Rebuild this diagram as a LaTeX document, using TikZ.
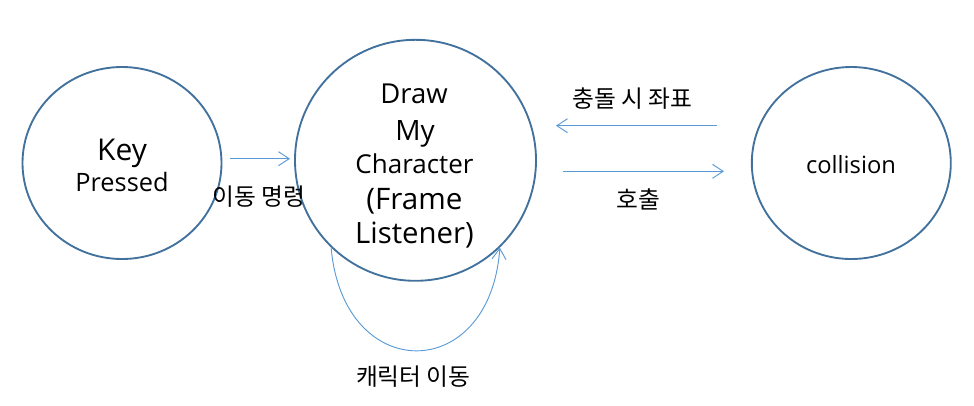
\documentclass[tikz,border=0pt]{standalone}
\usepackage{fontspec}
\setmainfont{Open Sans}
\newfontfamily\kr{Noto Sans CJK KR}
\usetikzlibrary{arrows.meta,shapes.geometric}
\definecolor{ring}{HTML}{41719C}
\definecolor{flow}{HTML}{5B9BD5}
\tikzset{
  state/.style={draw=ring, line width=1.4pt, ellipse, inner sep=0pt},
  flowarrow/.style={draw=flow, line width=0.7pt, -{Straight Barb[length=8pt,width=10.5pt]}},
  lbl/.style={inner sep=0pt, anchor=base, text=black},
  kor/.style={inner sep=0pt, text=black, font=\kr\fontsize{17.8}{20}\selectfont},
}
\newcommand{\fsz}[1]{\fontsize{#1}{#1}\selectfont}
\begin{document}
\begin{tikzpicture}[x=0.75pt,y=-0.75pt]
\useasboundingbox (0,0) rectangle (974,405);
% states
\node[state, minimum width=149.25pt, minimum height=144pt] (key) at (122,163) {};
\node[state, minimum width=180.75pt, minimum height=180.75pt] (mid) at (415.5,160.3) {};
\node[state, minimum width=149.25pt, minimum height=144pt] (col) at (851.3,163) {};
% state texts
\node[lbl, font=\fsz{22.5}] (tkey) at (122,160) {Key};
\node[lbl, font=\fsz{19}] (tpressed) at (122,191) {Pressed};
\node[lbl, font=\fsz{20.6}] (tdraw) at (414,103) {Draw};
\node[lbl, font=\fsz{21}] (tmy) at (415,140) {My};
\node[lbl, font=\fsz{19.5}] (tchar) at (414.5,173) {Character};
\node[lbl, font=\fsz{22.2}] (tframe) at (414.5,209) {(Frame};
\node[lbl, font=\fsz{22}] (tlist) at (414.5,243) {Listener)};
\node[lbl, font=\fsz{17.8}] (tcol) at (851,173.3) {collision};
% connector ends
\coordinate (k1) at (229.7,158.7);
\coordinate (k2) at (290,158.7);
\coordinate (c1) at (716.7,125.7);
\coordinate (c2) at (556,125.7);
\coordinate (h1) at (563,171.3);
\coordinate (h2) at (724,171.3);
% connectors
\draw[flowarrow] (k1) -- (k2);
\draw[flowarrow] (c1) -- (c2);
\draw[flowarrow] (h1) -- (h2);
\draw[flowarrow] (mid.226) .. controls (343,385) and (490,385) .. (mid.314);
% labels
\node[kor] (lmove) at (259,196.7) {이동 명령};
\node[kor] (lcoord) at (632.3,98.3) {충돌 시 좌표};
\node[kor] (lcall) at (638,199) {호출};
\node[kor] (lloop) at (413.3,376.7) {캐릭터 이동};
\end{tikzpicture}
\end{document}
